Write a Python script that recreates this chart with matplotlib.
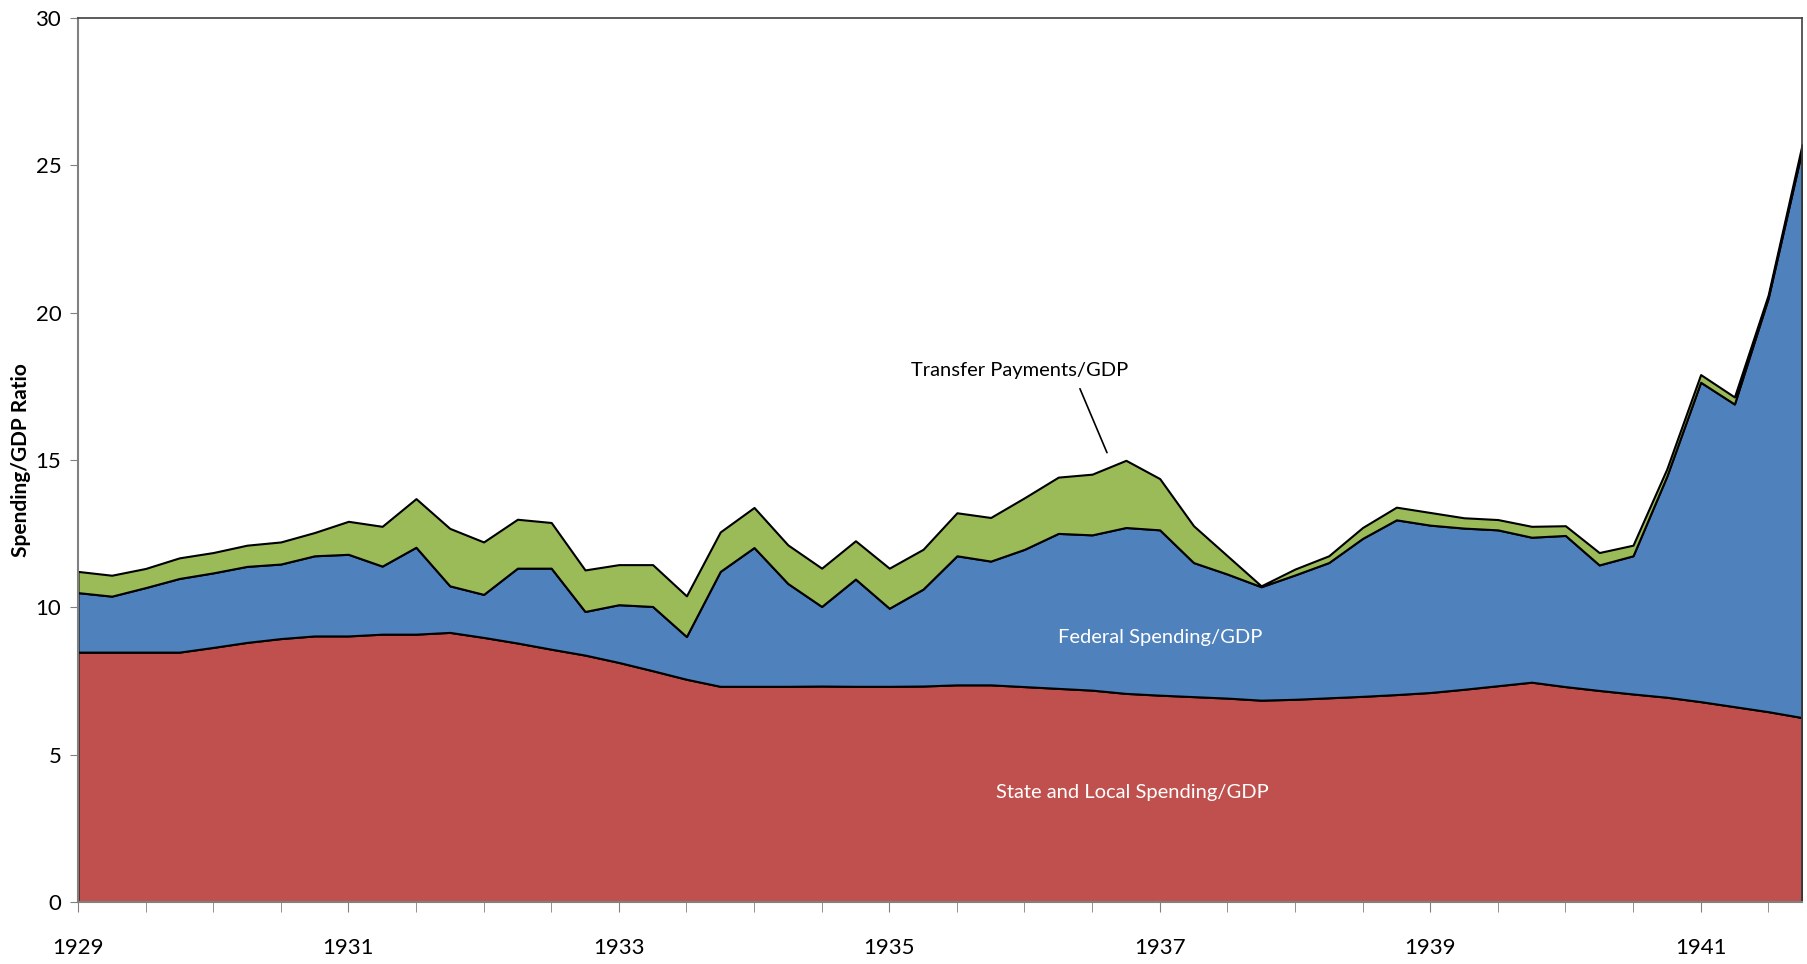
import numpy as np
import matplotlib
matplotlib.use("Agg")
import matplotlib.pyplot as plt
from matplotlib.ticker import MultipleLocator

# kwartaly 1929Q1 - 1941Q4
quarters = np.arange(52)
year_labels = ["1929", "1931", "1933", "1935", "1937", "1939", "1941"]

state_local = [8.48, 8.48, 8.48, 8.48, 8.64, 8.81, 8.94, 9.03, 9.03, 9.09,
               9.09, 9.15, 8.98, 8.79, 8.58, 8.38, 8.13, 7.85, 7.56, 7.32,
               7.32, 7.32, 7.33, 7.32, 7.32, 7.33, 7.37, 7.37, 7.31, 7.25,
               7.19, 7.08, 7.02, 6.97, 6.92, 6.85, 6.88, 6.93, 6.98, 7.04,
               7.11, 7.22, 7.34, 7.46, 7.31, 7.18, 7.06, 6.95, 6.80, 6.63,
               6.46, 6.26]
federal = [2.02, 1.90, 2.19, 2.50, 2.53, 2.58, 2.53, 2.72, 2.77, 2.31,
           2.95, 1.58, 1.46, 2.54, 2.75, 1.48, 1.96, 2.18, 1.45, 3.90,
           4.71, 3.49, 2.70, 3.64, 2.65, 3.29, 4.38, 4.20, 4.66, 5.26,
           5.27, 5.63, 5.61, 4.55, 4.21, 3.85, 4.22, 4.59, 5.36, 5.93,
           5.68, 5.47, 5.29, 4.92, 5.13, 4.26, 4.69, 7.50, 10.84, 10.27,
           14.04, 19.27]
transfers = [0.72, 0.71, 0.65, 0.70, 0.69, 0.72, 0.75, 0.79, 1.12, 1.35,
             1.65, 1.95, 1.78, 1.66, 1.55, 1.41, 1.36, 1.42, 1.38, 1.34,
             1.36, 1.31, 1.30, 1.30, 1.36, 1.35, 1.46, 1.48, 1.75, 1.91,
             2.06, 2.28, 1.74, 1.25, 0.62, 0.03, 0.20, 0.23, 0.37, 0.43,
             0.43, 0.35, 0.35, 0.37, 0.33, 0.42, 0.36, 0.25, 0.26, 0.24,
             0.11, 0.17]

plt.rcParams['font.family'] = ['Lato', 'DejaVu Sans']

fig = plt.figure(figsize=(18.08, 9.64), dpi=100)
ax = fig.add_axes([0.0431, 0.0643, 0.9536, 0.917])

ax.stackplot(quarters, state_local, federal, transfers,
             colors=["#C0504D", "#4F81BD", "#9BBB59"],
             edgecolor="black", linewidth=1.5)

ax.set_xlim(0, 51)
ax.set_ylim(0, 30)

# os X
ax.set_xticks(range(0, 52, 8))
ax.set_xticklabels(year_labels)
ax.xaxis.set_minor_locator(MultipleLocator(2))
ax.tick_params(axis='x', which='both', direction='out', length=7,
               color='#808080', labelsize=16, pad=19)
# os y
ax.set_yticks(range(0, 31, 5))
ax.tick_params(axis='y', direction='out', length=6, color='#808080',
               labelsize=16, pad=6)
ax.set_ylabel("Spending/GDP Ratio", fontsize=15, fontweight='bold')
ax.yaxis.set_label_coords(-0.027, 0.5)

for side in ["left", "bottom"]:
    ax.spines[side].set_color("#808080")
    ax.spines[side].set_linewidth(1.5)
for side in ["top", "right"]:
    ax.spines[side].set_color("#404040")
    ax.spines[side].set_linewidth(1.2)

# opisy
ax.text(32.0, 8.96, "Federal Spending/GDP", color="white", fontsize=14.5,
        ha="center", va="center")
ax.text(31.2, 3.70, "State and Local Spending/GDP", color="white",
        fontsize=14.5, ha="center", va="center")
ax.text(27.87, 18.03, "Transfer Payments/GDP", fontsize=14.5,
        ha="center", va="center")
ax.annotate("", xy=(30.44, 15.25), xytext=(29.64, 17.42),
            arrowprops=dict(arrowstyle="-", color="black", lw=1.2,
                            shrinkA=0, shrinkB=0))

fig.savefig("out.png", dpi=100)
